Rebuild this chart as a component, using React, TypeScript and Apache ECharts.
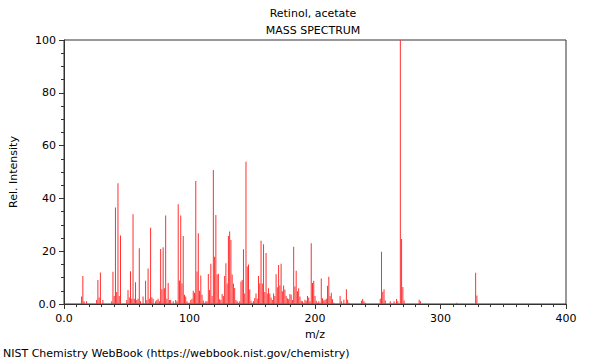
import React, { useEffect, useRef } from "react";
import * as echarts from "echarts";

const titleLine1 = "Retinol, acetate";
const titleLine2 = "MASS SPECTRUM";
const footer = "NIST Chemistry WebBook (https://webbook.nist.gov/chemistry)";
const xName = "m/z";
const yName = "Rel. Intensity";

const mz = [
  14, 15, 16, 18, 26, 27, 28, 29, 31, 38, 39, 40, 41, 42, 43, 44, 45, 50, 51, 52,
  53, 54, 55, 56, 57, 58, 59, 60, 61, 63, 65, 66, 67, 68, 69, 70, 71, 73, 74, 75,
  76, 77, 78, 79, 80, 81, 82, 83, 84, 85, 87, 89, 90, 91, 92, 93, 94, 95, 96, 97,
  98, 99, 100, 101, 102, 103, 104, 105, 106, 107, 108, 109, 110, 111, 112, 113, 114, 115, 116, 117,
  118, 119, 120, 121, 122, 123, 124, 125, 126, 127, 128, 129, 130, 131, 132, 133, 134, 135, 136, 137,
  138, 139, 140, 141, 142, 143, 144, 145, 146, 147, 148, 149, 150, 151, 152, 153, 154, 155, 156, 157,
  158, 159, 160, 161, 162, 163, 164, 165, 166, 167, 168, 169, 170, 171, 172, 173, 174, 175, 176, 177,
  178, 179, 180, 181, 182, 183, 184, 185, 186, 187, 188, 189, 190, 191, 192, 193, 194, 195, 196, 197,
  198, 199, 200, 201, 202, 203, 204, 205, 206, 207, 208, 209, 210, 211, 212, 213, 214, 215, 220, 221,
  223, 225, 226, 227, 237, 238, 239, 240, 252, 253, 254, 255, 256, 260, 263, 265, 266, 268, 269, 270,
  271, 283, 284, 313, 328, 329,
];

const intensity = [
  2.8, 10.6, 1, 1, 1.5, 9.1, 2.5, 11.9, 1.5, 1, 12.2, 3, 36.6, 4.5, 45.7, 3, 25.9, 1.5, 5.3, 2.5,
  12.4, 2, 34, 2, 8.2, 1.5, 2, 21.1, 1, 2.8, 8.8, 1.5, 13.4, 2, 28.9, 2.6, 2, 1, 1.5, 2,
  1, 20.8, 5.6, 21.5, 6, 33.5, 2, 8, 1.5, 1.5, 1, 1.5, 1, 37.8, 8.9, 33.5, 7.8, 25.8, 3.5, 2.8,
  1, 0.5, 0.5, 1.5, 2, 5, 4.3, 46.6, 12.3, 26.8, 5, 10.8, 3.5, 1.3, 0.5, 1, 1, 11.4, 5.3, 15.2,
  3, 50.8, 17.9, 33.7, 11.2, 11.5, 1.8, 1.5, 3.8, 3, 10.6, 15.4, 7.8, 25.8, 27.5, 24.2, 11.2, 7.8, 6.1, 1.5,
  1, 0.5, 1, 8.5, 9.1, 20.7, 4, 53.9, 14.2, 15, 5.5, 1.2, 0.5, 1, 2.3, 4, 2, 10.6, 7.8, 24,
  7.8, 22.6, 4.5, 19.3, 4, 6, 4, 2.5, 1.5, 4, 3, 11.3, 6.3, 14.8, 7, 15.2, 4.8, 7, 5.5, 3,
  2.2, 1.8, 3.8, 3.5, 1.5, 21.7, 6.6, 12.6, 4.8, 6, 2.8, 1.2, 1, 0.5, 1.6, 1.2, 3, 2.5, 1, 23,
  8, 8.8, 3, 1.2, 0.5, 1, 0.5, 9.7, 2.2, 1.3, 1.6, 2, 6.9, 10.3, 3, 4.3, 1.8, 0.5, 3, 1,
  1.6, 5.6, 1.6, 0.5, 1.2, 1.9, 1, 0.5, 2, 19.8, 4.6, 5.6, 1.3, 1, 1, 1.9, 1, 100, 24.6, 6.4,
  1.3, 1.6, 1, 0.5, 11.8, 3.2,
];

const fmt = (v: number) => (v === 0 ? "0.0" : String(v));

export default function App() {
  const ref = useRef<HTMLDivElement>(null);
  useEffect(() => {
    if (!ref.current) return;
    const chart = echarts.init(ref.current, null, { renderer: "svg" });
    const font = "DejaVu Sans";
    const txt = (text: string, x: number, y: number, align: string) => ({
      type: "text",
      x,
      y,
      style: {
        text,
        font: `11px "${font}"`,
        fill: "#000",
        textAlign: align,
        textVerticalAlign: "top",
      },
    });
    chart.setOption({
      animation: false,
      backgroundColor: "#fff",
      textStyle: { fontFamily: font },
      grid: {
        left: 61,
        right: 34,
        top: 40,
        bottom: 56,
        show: true,
        borderColor: "#333",
        borderWidth: 1,
        backgroundColor: "transparent",
      },
      xAxis: {
        type: "value",
        min: 0,
        max: 400,
        interval: 100,
        name: xName,
        nameLocation: "middle",
        nameGap: 24,
        nameTextStyle: { fontFamily: font, fontSize: 11, color: "#000" },
        axisLine: { show: true, lineStyle: { color: "#333" } },
        axisTick: { show: true, length: 5, lineStyle: { color: "#333" } },
        minorTick: { show: true, splitNumber: 10, length: 3, lineStyle: { color: "#333" } },
        splitLine: { show: false },
        axisLabel: { formatter: fmt, fontFamily: font, fontSize: 11, color: "#000", margin: 9 },
      },
      yAxis: {
        type: "value",
        min: 0,
        max: 100,
        interval: 20,
        name: yName,
        nameLocation: "middle",
        nameGap: 45,
        nameTextStyle: { fontFamily: font, fontSize: 11, color: "#000" },
        axisLine: { show: true, lineStyle: { color: "#333" } },
        axisTick: { show: true, length: 5, lineStyle: { color: "#333" } },
        minorTick: { show: true, splitNumber: 4, length: 3, lineStyle: { color: "#333" } },
        splitLine: { show: false },
        axisLabel: { formatter: fmt, fontFamily: font, fontSize: 11, color: "#000", margin: 8 },
      },
      series: [
        {
          type: "bar",
          barWidth: 1,
          itemStyle: { color: "#ff3030" },
          data: mz.map((m, i) => [m, intensity[i]]),
        },
      ],
      graphic: [
        txt(titleLine1, 313, 8, "center"),
        txt(titleLine2, 313, 25, "center"),
        txt(footer, 3, 348, "left"),
      ],
    });
    return () => chart.dispose();
  }, []);
  return (
    <div
      ref={ref}
      style={{ position: "fixed", left: 0, top: 0, width: 600, height: 360 }}
    />
  );
}
